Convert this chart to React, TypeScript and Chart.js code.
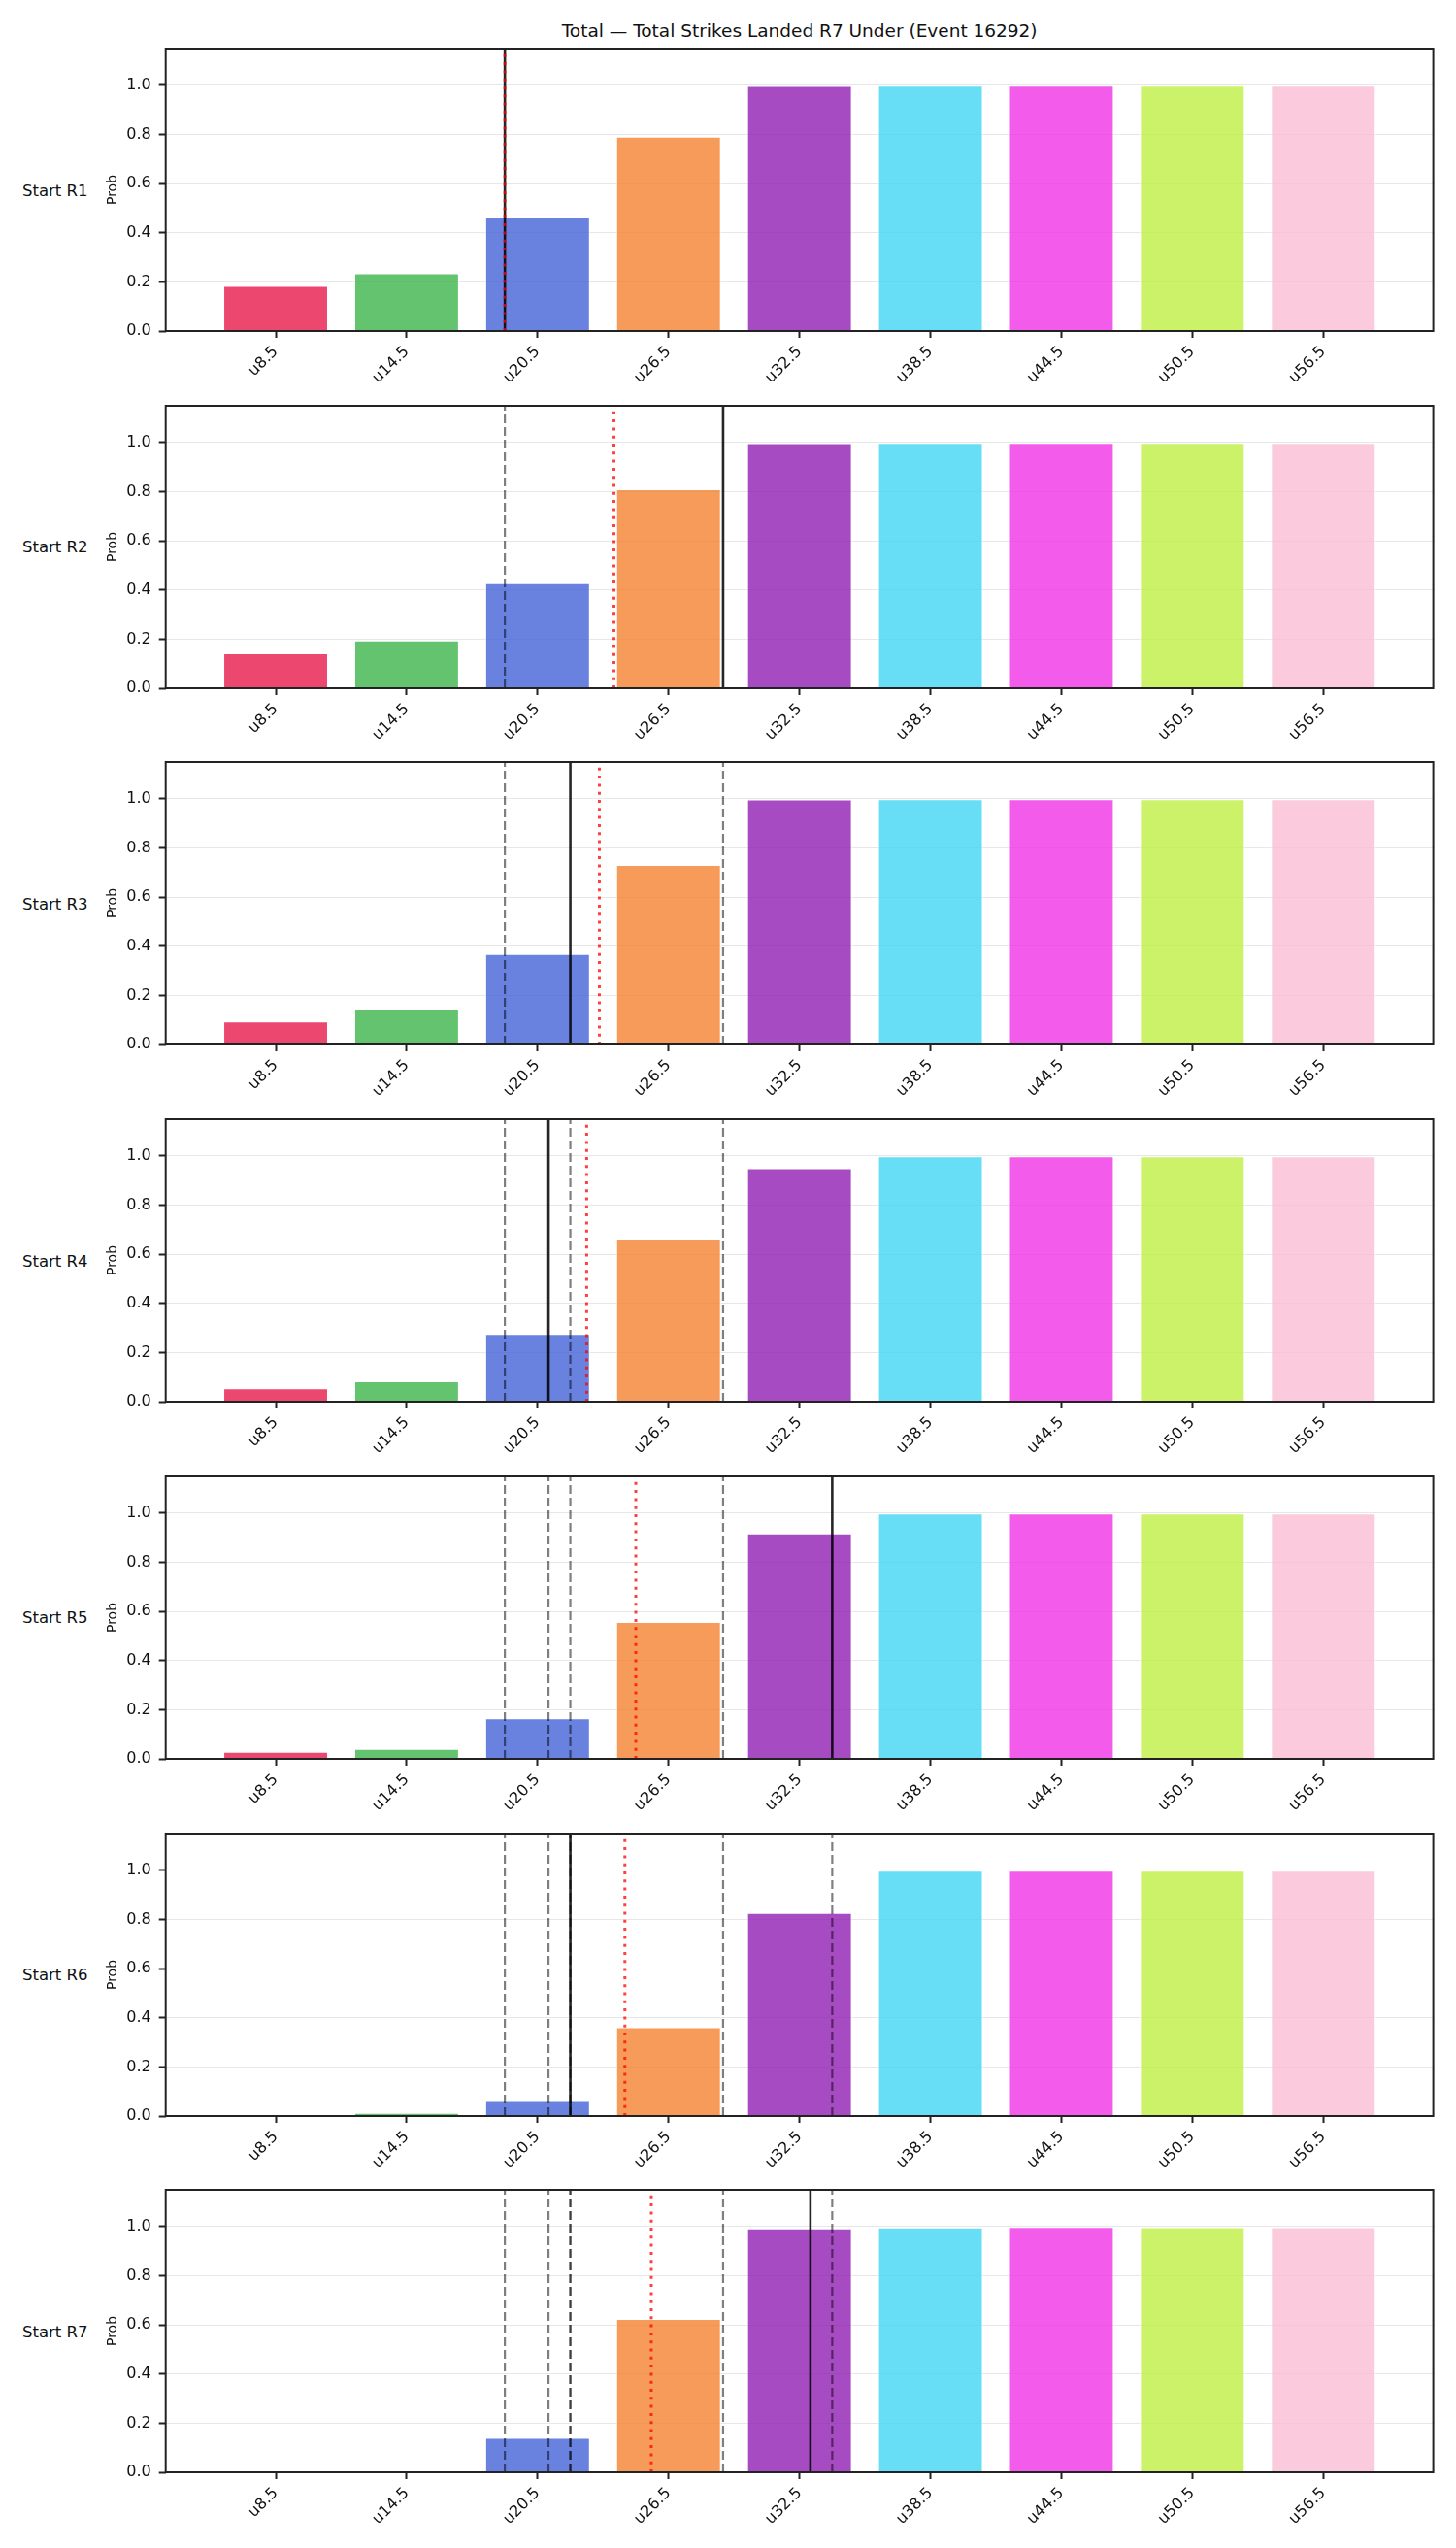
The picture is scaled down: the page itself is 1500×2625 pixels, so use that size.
import React, { useEffect, useRef } from 'react';
import { Chart, registerables } from 'chart.js';

Chart.register(...registerables);

// ---------------- data ----------------
const TITLE = 'Total — Total Strikes Landed R7 Under (Event 16292)';
const LABELS = ['u8.5', 'u14.5', 'u20.5', 'u26.5', 'u32.5', 'u38.5', 'u44.5', 'u50.5', 'u56.5'];
const THRESHOLDS = [8.5, 14.5, 20.5, 26.5, 32.5, 38.5, 44.5, 50.5, 56.5];
const ROUND_LABELS = ['Start R1', 'Start R2', 'Start R3', 'Start R4', 'Start R5', 'Start R6', 'Start R7'];

const PROB_R1 = [0.184, 0.235, 0.462, 0.791, 0.998, 0.999, 0.999, 0.999, 0.999];
const PROB_R2 = [0.142, 0.195, 0.428, 0.81, 0.998, 0.999, 0.999, 0.999, 0.999];
const PROB_R3 = [0.094, 0.142, 0.369, 0.731, 0.998, 0.999, 0.999, 0.999, 0.999];
const PROB_R4 = [0.054, 0.083, 0.276, 0.664, 0.95, 0.999, 0.999, 0.999, 0.999];
const PROB_R5 = [0.029, 0.041, 0.165, 0.557, 0.918, 0.999, 0.999, 0.999, 0.999];
const PROB_R6 = [0.005, 0.013, 0.061, 0.362, 0.827, 0.999, 0.999, 0.999, 0.999];
const PROB_R7 = [0.0, 0.005, 0.14, 0.624, 0.993, 0.997, 0.999, 0.998, 0.998];
const PROBS = [PROB_R1, PROB_R2, PROB_R3, PROB_R4, PROB_R5, PROB_R6, PROB_R7];

// actual strikes landed in each round (solid black), earlier rounds shown dashed grey
const ROUND_TOTALS = [19, 29, 22, 21, 34, 22, 33];
// running mean (red dotted)
const RUNNING_MEAN = [19, 24, 23.33, 22.75, 25, 24.5, 25.71];

const BAR_COLORS = [
  'rgba(230,25,75,0.8)',
  'rgba(60,180,75,0.8)',
  'rgba(67,99,216,0.8)',
  'rgba(245,130,49,0.8)',
  'rgba(145,30,180,0.8)',
  'rgba(66,212,244,0.8)',
  'rgba(240,50,230,0.8)',
  'rgba(191,239,69,0.8)',
  'rgba(250,190,212,0.8)',
];

const Y_TICKS = [0, 0.2, 0.4, 0.6, 0.8, 1.0];
const X_MIN = 3.46;
const X_MAX = 61.54;
const Y_MAX = 1.15;

// ---------------- layout ----------------
const PANEL_TOP0 = 50;
const PANEL_STEP = 367.7;
const PANEL_H = 291;
const AREA_LEFT = 170.7;
const AREA_RIGHT = 1476.6;
const CANVAS_W = 1500;
const PAD_TOP = 20;
const X_AXIS_H = 66;
const CANVAS_H = PAD_TOP + PANEL_H + X_AXIS_H;
const PAD_LEFT = 103.6;
const FONT = "'DejaVu Sans', 'Liberation Sans', sans-serif";

const framePlugin = {
  id: 'frame',
  afterDraw(chart: any) {
    const { ctx, chartArea: a } = chart;
    ctx.save();
    ctx.strokeStyle = '#222';
    ctx.lineWidth = 2;
    ctx.strokeRect(a.left, a.top, a.right - a.left, a.bottom - a.top);
    ctx.restore();
  },
};

function vline(x: number, color: string, width: number, dash: number[], order: number) {
  return {
    type: 'line' as const,
    data: [
      { x, y: 0 },
      { x, y: Y_MAX },
    ],
    borderColor: color,
    borderWidth: width,
    borderDash: dash,
    borderCapStyle: 'butt' as const,
    pointRadius: 0,
    fill: false,
    order,
  };
}

function buildChart(canvas: HTMLCanvasElement, idx: number) {
  const probs = PROBS[idx];
  const datasets: any[] = [
    {
      type: 'bar',
      data: THRESHOLDS.map((x, i) => ({ x, y: probs[i] })),
      backgroundColor: BAR_COLORS,
      borderColor: 'rgba(255,255,255,0.9)',
      borderWidth: 1,
      barPercentage: 0.8,
      categoryPercentage: 1,
      order: 3,
    },
  ];
  ROUND_TOTALS.slice(0, idx).forEach((v) => {
    datasets.push(vline(v, 'rgba(0,0,0,0.5)', 2.2, [9, 4], 2));
  });
  datasets.push(vline(ROUND_TOTALS[idx], 'rgba(0,0,0,0.85)', 2.6, [], 1));
  datasets.push(vline(RUNNING_MEAN[idx], 'rgba(255,0,0,0.75)', 3, [3, 5.3], 0));

  return new Chart(canvas, {
    type: 'bar',
    data: { datasets },
    plugins: [framePlugin],
    options: {
      responsive: false,
      animation: false,
      devicePixelRatio: 1,
      layout: {
        padding: { left: PAD_LEFT, right: CANVAS_W - AREA_RIGHT, top: PAD_TOP, bottom: 0 },
      },
      plugins: {
        legend: { display: false },
        tooltip: { enabled: false },
        title: { display: false },
      },
      scales: {
        x: {
          type: 'linear',
          min: X_MIN,
          max: X_MAX,
          offset: false,
          afterBuildTicks: (s: any) => {
            s.ticks = THRESHOLDS.map((v) => ({ value: v }));
          },
          afterFit: (s: any) => {
            s.height = X_AXIS_H;
          },
          ticks: {
            autoSkip: false,
            minRotation: 45,
            maxRotation: 45,
            padding: 5,
            color: '#111',
            font: { family: FONT, size: 16 },
            callback: (_v: any, i: number) => LABELS[i],
          },
          grid: {
            offset: false,
            drawOnChartArea: false,
            drawTicks: true,
            tickLength: 7,
            tickColor: '#222',
            tickWidth: 2,
          },
          border: { display: false },
        },
        y: {
          min: 0,
          max: Y_MAX,
          z: 1,
          afterBuildTicks: (s: any) => {
            s.ticks = Y_TICKS.map((v) => ({ value: v }));
          },
          afterFit: (s: any) => {
            s.width = AREA_LEFT - PAD_LEFT;
          },
          ticks: {
            padding: 8,
            color: '#111',
            font: { family: FONT, size: 16 },
            callback: (v: any) => Number(v).toFixed(1),
          },
          grid: {
            color: 'rgba(176,176,176,0.3)',
            lineWidth: 1,
            tickLength: 7,
            tickColor: '#222',
            tickWidth: 2,
          },
          border: { display: false },
          title: {
            display: true,
            text: 'Prob',
            color: '#111',
            font: { family: FONT, size: 14 },
            padding: { top: 4, bottom: 4 },
          },
        },
      },
    } as any,
  });
}

export default function App() {
  const refs = useRef<(HTMLCanvasElement | null)[]>([]);

  useEffect(() => {
    const charts: Chart[] = [];
    refs.current.forEach((c, i) => {
      if (c) charts.push(buildChart(c, i));
    });
    return () => charts.forEach((ch) => ch.destroy());
  }, []);

  return (
    <div
      style={{
        position: 'absolute',
        left: 0,
        top: 0,
        width: 1500,
        height: 2625,
        background: '#fff',
        fontFamily: FONT,
        color: '#111',
        overflow: 'hidden',
      }}
    >
      <div
        style={{
          position: 'absolute',
          left: AREA_LEFT,
          width: AREA_RIGHT - AREA_LEFT,
          top: 31,
          transform: 'translateY(-50%)',
          textAlign: 'center',
          fontSize: 18.5,
          whiteSpace: 'nowrap',
        }}
      >
        {TITLE}
      </div>
      {ROUND_LABELS.map((lab, i) => {
        const top = PANEL_TOP0 + PANEL_STEP * i;
        return (
          <React.Fragment key={lab}>
            <div
              style={{
                position: 'absolute',
                left: 23,
                top: top + PANEL_H / 2,
                transform: 'translateY(-50%)',
                fontSize: 16.5,
                whiteSpace: 'nowrap',
              }}
            >
              {lab}
            </div>
            <canvas
              ref={(el) => {
                refs.current[i] = el;
              }}
              width={CANVAS_W}
              height={CANVAS_H}
              style={{
                position: 'absolute',
                left: 0,
                top: top - PAD_TOP,
                width: CANVAS_W,
                height: CANVAS_H,
              }}
            />
          </React.Fragment>
        );
      })}
    </div>
  );
}
